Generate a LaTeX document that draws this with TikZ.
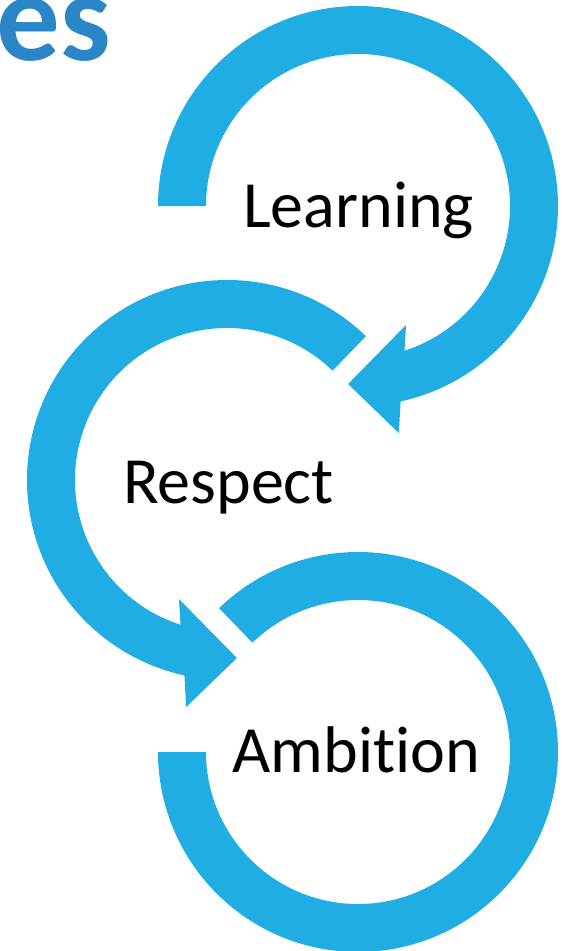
\documentclass[tikz,border=0pt]{standalone}
\usepackage{fontspec}
\setmainfont[Ligatures=NoCommon]{Carlito}
\definecolor{arrowblue}{RGB}{31,173,227}
\definecolor{titleblue}{RGB}{43,134,200}
\begin{document}
\begin{tikzpicture}[x=1pt,y=-1pt,
  band/.style={fill=arrowblue},
  label/.style={inner sep=0pt,anchor=base,font=\fontsize{66}{79}\selectfont,text=black}]
\useasboundingbox (0,0) rectangle (575,951);
% circle 1 (Learning)
\begin{scope}[shift={(358,206)}]
\fill[band] (180:200) arc[start angle=180,end angle=437.7,radius=200]
  -- (79.8:230.7) -- (93.2:178.3) -- (68:128.3) -- (72.2:152)
  arc[start angle=432.2,end angle=180,radius=152] -- cycle;
\end{scope}
% circle 2 (Respect)
\begin{scope}[shift={(227,480)}]
\fill[band] (-46:200) arc[start angle=-46,end angle=-257.7,radius=200]
  -- (100.2:230.7) -- (86.8:178.3) -- (112:128.3) -- (107.8:152)
  arc[start angle=107.8,end angle=314,radius=152] -- cycle;
\end{scope}
% circle 3 (Ambition)
\begin{scope}[shift={(358,752)}]
\fill[band] (226:200) arc[start angle=226,end angle=540,radius=200]
  -- (180:152) arc[start angle=540,end angle=226,radius=152] -- cycle;
\end{scope}
\node[label] (learning) at (358.5,227) {Learning};
\node[label] (respect) at (228.5,503) {Respect};
\node[label] (ambition) at (356.5,772) {Ambition};
\node[inner sep=0pt,anchor=base west,font=\fontsize{127}{140}\selectfont\bfseries,text=titleblue] (title) at (-4,60) {es};
\end{tikzpicture}
\end{document}
